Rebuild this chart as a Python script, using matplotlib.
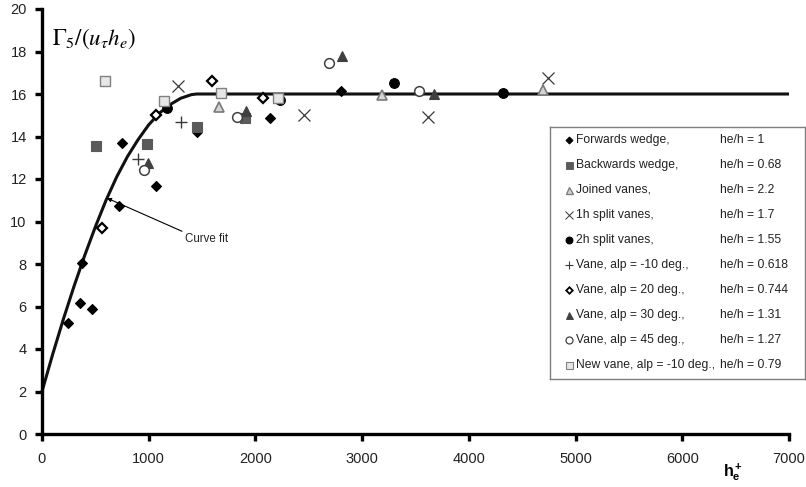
import matplotlib
matplotlib.use("Agg")
import matplotlib.pyplot as plt

plt.rcParams.update({
    "font.family": ["Liberation Sans", "DejaVu Sans"],
    "mathtext.fontset": "custom",
    "mathtext.rm": "Liberation Sans",
    "mathtext.it": "Liberation Sans:italic",
    "mathtext.bf": "Liberation Sans:bold",
})

# ---- measured data: he+ vs Gamma_5/(u_tau h_e) ----
forwards_x = [244, 356, 375, 469, 722, 750, 1069, 1453, 2137, 2803]
forwards_y = [5.23, 6.17, 8.06, 5.89, 10.74, 13.71, 11.69, 14.23, 14.89, 16.16]

backwards_x = [506, 984, 1453, 1903]
backwards_y = [13.57, 13.67, 14.47, 14.85]

joined_x = [1659, 3187, 4697]
joined_y = [15.41, 15.93, 16.21]

split1h_x = [1275, 2456, 3619, 4744]
split1h_y = [16.40, 14.99, 14.94, 16.73]

split2h_x = [1172, 2231, 3300, 4322]
split2h_y = [15.36, 15.74, 16.54, 16.07]

vane_m10_x = [896, 1305]
vane_m10_y = [12.93, 14.70]

vane_20_x = [563, 1069, 1594, 2072]
vane_20_y = [9.71, 14.99, 16.59, 15.79]

vane_30_x = [994, 1913, 2812, 3675]
vane_30_y = [12.77, 15.22, 17.77, 15.98]

vane_45_x = [952, 1828, 2691, 3534]
vane_45_y = [12.44, 14.94, 17.48, 16.12]

new_vane_x = [586, 1139, 1678, 2208]
new_vane_y = [16.59, 15.65, 16.07, 15.79]

# curve fit (rises to the plateau value, then constant)
curve_x = [0, 100, 200, 300, 400, 500, 600, 700, 800, 900, 1000, 1100,
           1200, 1300, 1400, 1450, 7000]
curve_y = [2.0, 3.75, 5.4, 6.95, 8.4, 9.75, 11.0, 12.1, 13.05, 13.85, 14.55,
           15.1, 15.5, 15.8, 15.97, 16.0, 16.0]

series_names = ["Forwards wedge,", "Backwards wedge,", "Joined vanes,",
                "1h split vanes,", "2h split vanes,", "Vane, alp = -10 deg.,",
                "Vane, alp = 20 deg.,", "Vane, alp = 30 deg.,",
                "Vane, alp = 45 deg.,", "New vane, alp = -10 deg.,"]
height_ratios = ["1", "0.68", "2.2", "1.7", "1.55", "0.618", "0.744",
                 "1.31", "1.27", "0.79"]

x_ticks = [0, 1000, 2000, 3000, 4000, 5000, 6000, 7000]
y_ticks = [0, 2, 4, 6, 8, 10, 12, 14, 16, 18, 20]

# marker styles: (marker, size, face, edge, edge width)
styles = [
    ("D", 5.0, "black", "black", 0.8),
    ("s", 7.0, "#5a5a5a", "#5a5a5a", 0.8),
    ("^", 7.0, "#d4d4d4", "#7a7a7a", 1.2),
    ("x", 8.0, "#3a3a3a", "#3a3a3a", 0.9),
    ("o", 7.0, "black", "black", 0.8),
    ("+", 8.5, "#3a3a3a", "#3a3a3a", 1.0),
    ("D", 4.6, "white", "black", 1.6),
    ("^", 7.0, "#404040", "#404040", 0.8),
    ("o", 7.0, "white", "#404040", 1.1),
    ("s", 7.0, "#e6e6e6", "#808080", 1.0),
]
series = [(forwards_x, forwards_y), (backwards_x, backwards_y),
          (joined_x, joined_y), (split1h_x, split1h_y),
          (split2h_x, split2h_y), (vane_m10_x, vane_m10_y),
          (vane_20_x, vane_20_y), (vane_30_x, vane_30_y),
          (vane_45_x, vane_45_y), (new_vane_x, new_vane_y)]

W, H = 806, 487
fig = plt.figure(figsize=(W / 100, H / 100), dpi=100)
ax = fig.add_axes([42 / W, 53 / H, 747 / W, 425 / H])

ax.plot(curve_x, curve_y, color="#111111", lw=2.2, zorder=2,
        solid_capstyle="butt", clip_on=False)

for (xs, ys), (m, ms, fc, ec, mew) in zip(series, styles):
    ax.plot(xs, ys, linestyle="none", marker=m, markersize=ms,
            markerfacecolor=fc, markeredgecolor=ec, markeredgewidth=mew,
            color=ec, zorder=3, clip_on=False)

ax.annotate("Curve fit", xy=(609, 11.1), xytext=(1540, 9.2),
            ha="center", va="center", fontsize=8.3, color="#222222",
            arrowprops=dict(arrowstyle="-|>", color="black", lw=0.8,
                            mutation_scale=6, shrinkA=0, shrinkB=0,
                            relpos=(0.0, 1.0)))

ax.set_xlim(0, 7000)
ax.set_ylim(0, 20)
ax.set_xticks(x_ticks)
ax.set_yticks(y_ticks)
for s in ("top", "right"):
    ax.spines[s].set_visible(False)
for s in ("left", "bottom"):
    ax.spines[s].set_linewidth(2.4)
    ax.spines[s].set_color("black")
ax.tick_params(axis="both", direction="out", length=5, width=2.4,
               labelsize=10.5, labelcolor="#222222")
ax.tick_params(axis="x", pad=8)
ax.tick_params(axis="y", pad=6)

ax.text((52 - 42) / 747, (434 - 39) / 425, r"$\Gamma_5/(u_\tau h_e)$",
        transform=ax.transAxes, ha="left", va="center", fontsize=16.5,
        math_fontfamily="stix")
ax.text((733 - 42) / 747, (434 - 472) / 425, r"$\mathbf{h_e^+}$",
        transform=ax.transAxes, ha="center", va="center", fontsize=11.5)

# legend panel, laid out in pixel units
lax = fig.add_axes([550 / W, (H - 379) / H, 255 / W, 252 / H], zorder=5)
lax.set_xlim(550, 805)
lax.set_ylim(379, 127)
lax.set_xticks([])
lax.set_yticks([])
for s in lax.spines.values():
    s.set_color("#7f7f7f")
    s.set_linewidth(1.0)

for i, ((m, ms, fc, ec, mew), name, ratio) in enumerate(
        zip(styles, series_names, height_ratios)):
    y = 140 + 25 * i
    lax.plot([569], [y], linestyle="none", marker=m, markersize=ms * 0.72,
             markerfacecolor=fc, markeredgecolor=ec,
             markeredgewidth=mew * 0.8, clip_on=False)
    lax.text(576, y, name, ha="left", va="center", fontsize=8.7,
             color="#222222")
    lax.text(720, y, "he/h = " + ratio, ha="left", va="center",
             fontsize=8.7, color="#222222")

fig.savefig("out.png", dpi=100)
